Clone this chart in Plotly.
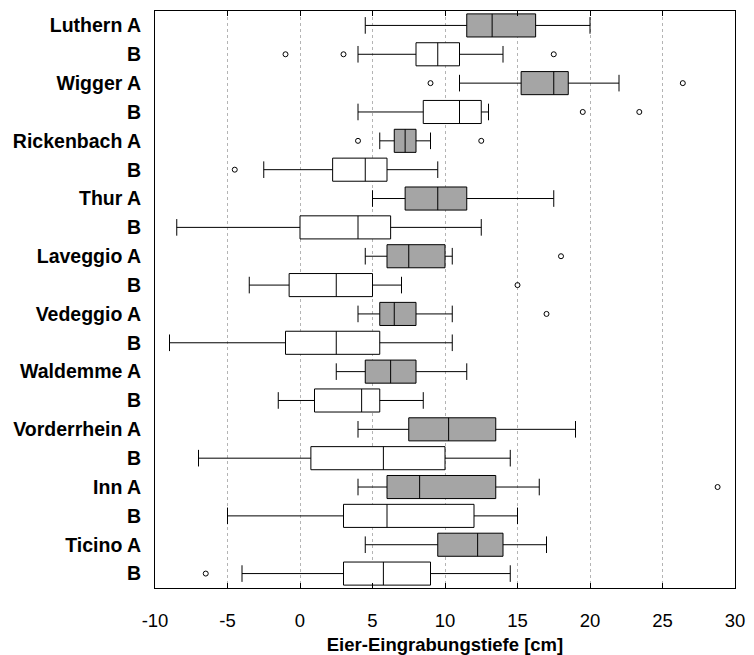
import plotly.graph_objects as go

# Row labels, top to bottom
labels = ["Luthern A", "B", "Wigger A", "B", "Rickenbach A", "B", "Thur A", "B",
          "Laveggio A", "B", "Vedeggio A", "B", "Waldemme A", "B",
          "Vorderrhein A", "B", "Inn A", "B", "Ticino A", "B"]

# Box statistics per row (cm)
whisker_lo = [4.5, 4.0, 11.0, 4.0, 5.5, -2.5, 5.0, -8.5, 4.5, -3.5,
              4.0, -9.0, 2.5, -1.5, 4.0, -7.0, 4.0, -5.0, 4.5, -4.0]
q1 = [11.5, 8.0, 15.25, 8.5, 6.5, 2.25, 7.25, 0.0, 6.0, -0.75,
      5.5, -1.0, 4.5, 1.0, 7.5, 0.75, 6.0, 3.0, 9.5, 3.0]
median = [13.25, 9.5, 17.5, 11.0, 7.25, 4.5, 9.5, 4.0, 7.5, 2.5,
          6.5, 2.5, 6.25, 4.25, 10.25, 5.75, 8.25, 6.0, 12.25, 5.75]
q3 = [16.25, 11.0, 18.5, 12.5, 8.0, 6.0, 11.5, 6.25, 10.0, 5.0,
      8.0, 5.5, 8.0, 5.5, 13.5, 10.0, 13.5, 12.0, 14.0, 9.0]
whisker_hi = [20.0, 14.0, 22.0, 13.0, 9.0, 9.5, 17.5, 12.5, 10.5, 7.0,
              10.5, 10.5, 11.5, 8.5, 19.0, 14.5, 16.5, 15.0, 17.0, 14.5]

# Outliers: row index and value
outlier_rows = [1, 1, 1, 2, 2, 3, 3, 4, 4, 5, 8, 9, 10, 16, 19]
outlier_vals = [-1.0, 3.0, 17.5, 9.0, 26.4, 19.5, 23.4, 4.0, 12.5, -4.5,
                18.0, 15.0, 17.0, 28.8, -6.5]

x_ticks = [-10, -5, 0, 5, 10, 15, 20, 25, 30]

FONT = "Liberation Sans, Arial, sans-serif"
positions = list(range(len(labels)))

fig = go.Figure()

for group, fill in (("A", "#a5a5a5"), ("B", "#ffffff")):
    idx = [i for i, lab in enumerate(labels) if lab.endswith(group)]
    fig.add_trace(go.Box(
        orientation="h",
        y=[positions[i] for i in idx],
        q1=[q1[i] for i in idx],
        median=[median[i] for i in idx],
        q3=[q3[i] for i in idx],
        lowerfence=[whisker_lo[i] for i in idx],
        upperfence=[whisker_hi[i] for i in idx],
        fillcolor=fill,
        line=dict(color="#000000", width=1),
        width=0.8,
        whiskerwidth=0.72,
        boxpoints=False,
        showlegend=False,
        hoverinfo="skip",
    ))

fig.add_trace(go.Scatter(
    x=outlier_vals,
    y=[positions[r] for r in outlier_rows],
    mode="markers",
    marker=dict(symbol="circle-open", size=5, color="#000000",
                line=dict(width=1, color="#000000")),
    showlegend=False,
    hoverinfo="skip",
))

fig.update_layout(
    width=754, height=655,
    margin=dict(l=155, r=19, t=11, b=67),
    paper_bgcolor="white", plot_bgcolor="white",
    font=dict(family=FONT, size=18.5, color="#000000"),
    showlegend=False,
)

fig.update_xaxes(
    range=[-10, 30], tickvals=x_ticks, ticktext=[str(t) for t in x_ticks],
    showgrid=True, gridcolor="#b4b4b4", griddash="dot", gridwidth=1,
    zeroline=False, automargin=False,
    showline=True, linecolor="#000000", linewidth=1, mirror="ticks",
    ticks="inside", ticklen=5, tickcolor="#000000",
    ticklabelstandoff=16,
    tickfont=dict(family=FONT, size=18.5),
    title=dict(text="<b>Eier-Eingrabungstiefe [cm]</b>",
               font=dict(family=FONT, size=18.5), standoff=7),
)

fig.update_yaxes(
    range=[19.5, -0.5], tickvals=positions,
    ticktext=[f"<b>{lab}</b>" for lab in labels],
    showgrid=False, zeroline=False, automargin=False,
    showline=True, linecolor="#000000", linewidth=1, mirror=True,
    ticks="", ticklabelstandoff=9,
    tickfont=dict(family=FONT, size=19.5),
)

fig.write_html("out.html")
